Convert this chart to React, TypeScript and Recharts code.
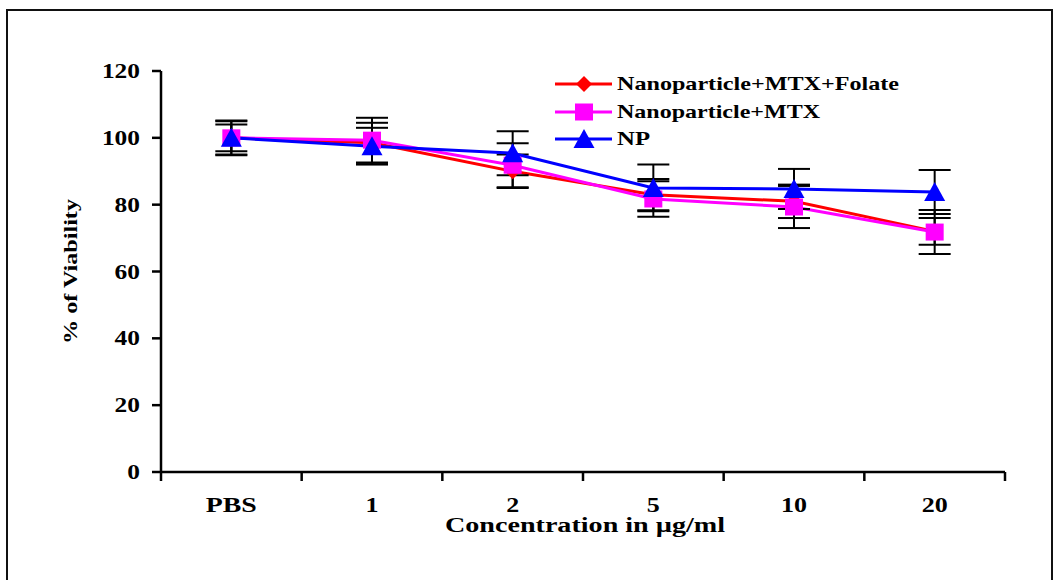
import React from 'react';
import { LineChart, Line, XAxis, YAxis, ErrorBar, Legend } from 'recharts';

const categories = ['PBS', '1', '2', '5', '10', '20'];
const folateValues = [100, 98.5, 90, 83, 81, 72];
const folateErrors = [4, 6, 5, 4.7, 5, 4];
const mtxValues = [100, 99.3, 91.8, 81.7, 79.3, 71.8];
const mtxErrors = [5, 6.7, 6.6, 5.3, 6.3, 6.6];
const npValues = [100, 97.5, 95.4, 85, 84.7, 83.8];
const npErrors = [5.2, 5.5, 6.6, 7, 6, 6.6];
const yTicks = [0, 20, 40, 60, 80, 100, 120];
const seriesNames = ['Nanoparticle+MTX+Folate', 'Nanoparticle+MTX', 'NP'];
const seriesColors = ['#FF0000', '#FF00FF', '#0000FF'];

const data = categories.map((c, i) => ({
  x: i + 0.5,
  name: c,
  folate: folateValues[i],
  folateErr: folateErrors[i],
  mtx: mtxValues[i],
  mtxErr: mtxErrors[i],
  np: npValues[i],
  npErr: npErrors[i],
}));

const xTicks: number[] = [];
for (let i = 0; i <= categories.length; i++) {
  xTicks.push(i);
  if (i < categories.length) xTicks.push(i + 0.5);
}

const FONT = '"Liberation Serif", "Times New Roman", serif';

const Diamond = (p: any) => {
  const { cx, cy, fill } = p;
  if (cx == null || cy == null) return null;
  const s = 8;
  return <polygon points={`${cx},${cy - s} ${cx + s},${cy} ${cx},${cy + s} ${cx - s},${cy}`} fill={fill} />;
};
const Square = (p: any) => {
  const { cx, cy, fill } = p;
  if (cx == null || cy == null) return null;
  return <rect x={cx - 9} y={cy - 8.5} width={18} height={17} fill={fill} />;
};
const Triangle = (p: any) => {
  const { cx, cy, fill } = p;
  if (cx == null || cy == null) return null;
  return <polygon points={`${cx},${cy - 10} ${cx + 10.5},${cy + 9} ${cx - 10.5},${cy + 9}`} fill={fill} />;
};
const shapes = [Diamond, Square, Triangle];

const XTick = (props: any) => {
  const { x, y, payload } = props;
  const v = payload.value;
  if (Number.isInteger(v)) {
    return <line x1={x} x2={x} y1={y} y2={y + 9} stroke="#000" strokeWidth={2.5} />;
  }
  const label = categories[Math.floor(v)];
  const w = label === 'PBS' ? 51 : label.length * 13;
  return (
    <text x={x} y={y + 40} textAnchor="middle" fontFamily={FONT} fontWeight="bold" fontSize={20}
      textLength={w} lengthAdjust="spacingAndGlyphs" fill="#000">{label}</text>
  );
};

const YTick = (props: any) => {
  const { x, y, payload } = props;
  const label = String(payload.value);
  return (
    <text x={x} y={y + 7} textAnchor="end" fontFamily={FONT} fontWeight="bold" fontSize={20}
      textLength={label.length * 12.7} lengthAdjust="spacingAndGlyphs" fill="#000">{label}</text>
  );
};

const LegendContent = () => (
  <svg width={380} height={100} style={{ display: 'block' }}>
    {seriesNames.map((n, i) => {
      const rowY = [24, 52, 79][i];
      const Shape = shapes[i];
      const widths = [282, 203, 33];
      return (
        <g key={n}>
          <line x1={15} x2={72} y1={rowY} y2={rowY} stroke={seriesColors[i]} strokeWidth={3} />
          <Shape cx={44} cy={rowY} fill={seriesColors[i]} />
          <text x={77} y={rowY + 6} fontFamily={FONT} fontWeight="bold" fontSize={19}
            textLength={widths[i]} lengthAdjust="spacingAndGlyphs" fill="#000">{n}</text>
        </g>
      );
    })}
  </svg>
);

const YLabel = (props: any) => {
  const vb = props.viewBox;
  const cx = vb.x - 31;
  const cy = vb.y + vb.height / 2;
  return (
    <text x={cx} y={cy} transform={`rotate(-90 ${cx} ${cy})`} textAnchor="middle" dominantBaseline="central"
      fontFamily={FONT} fontWeight="bold" fontSize={19} textLength={145} lengthAdjust="spacingAndGlyphs" fill="#000">
      % of Viability
    </text>
  );
};

const XLabel = (props: any) => {
  const vb = props.viewBox;
  const cx = vb.x + vb.width / 2 + 2;
  return (
    <text x={cx} y={vb.y + 60} textAnchor="middle" fontFamily={FONT} fontWeight="bold" fontSize={20}
      textLength={280} lengthAdjust="spacingAndGlyphs" fill="#000">
      Concentration in µg/ml
    </text>
  );
};

const keys = ['folate', 'mtx', 'np'];

export default function App() {
  return (
    <div style={{ position: 'absolute', left: 0, top: 0, width: 1053, height: 580, background: '#fff', overflow: 'hidden' }}>
      <div style={{ position: 'absolute', left: 6, top: 9, width: 1043, height: 600, border: '2px solid #111' }} />
      <div style={{ position: 'absolute', left: 0, top: 0 }}>
        <LineChart width={1053} height={580} data={data} margin={{ top: 71, right: 48, bottom: 48, left: 101 }}>
          <XAxis dataKey="x" type="number" domain={[0, categories.length]} ticks={xTicks} interval={0}
            tickLine={false} tickSize={0} tickMargin={0} tick={<XTick />} height={60}
            axisLine={{ stroke: '#000', strokeWidth: 2.5 }} label={<XLabel />} />
          <YAxis type="number" domain={[0, 120]} ticks={yTicks} interval={0} width={60} tickSize={9} tickMargin={12}
            tick={<YTick />} tickLine={{ stroke: '#000', strokeWidth: 2.5 }} axisLine={{ stroke: '#000', strokeWidth: 2.5 }}
            label={<YLabel />} />
          <Legend layout="vertical" align="center" verticalAlign="middle" content={<LegendContent />}
            wrapperStyle={{ left: 540, top: 60, width: 380, height: 100 }} />
          {keys.map((k, i) => {
            const Shape = shapes[i];
            return (
              <Line key={k} dataKey={k} stroke={seriesColors[i]} strokeWidth={3} isAnimationActive={false}
                dot={(p: any) => <Shape key={`${k}-${p.index}`} cx={p.cx} cy={p.cy} fill={seriesColors[i]} />}
                activeDot={false} name={seriesNames[i]}>
                <ErrorBar dataKey={`${k}Err`} width={16} strokeWidth={2} stroke="#000" direction="y" />
              </Line>
            );
          })}
        </LineChart>
      </div>
    </div>
  );
}
